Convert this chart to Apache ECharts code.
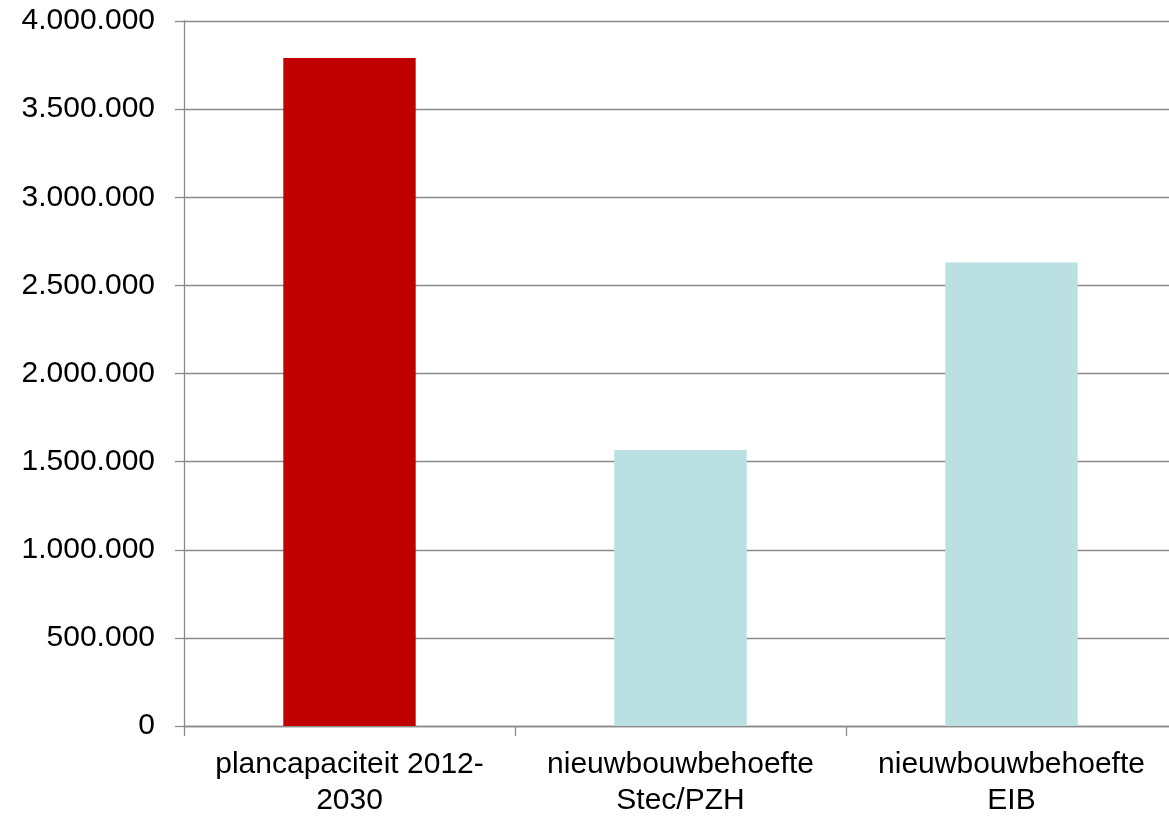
<!DOCTYPE html>
<html>
<head>
<meta charset="utf-8">
<script src="https://cdn.jsdelivr.net/npm/echarts@6/dist/echarts.min.js"></script>
<style>
html,body{margin:0;padding:0;background:#ffffff;overflow:hidden;}
#chart{position:absolute;left:0;top:0;width:1178px;height:816px;}
</style>
</head>
<body>
<div id="chart"></div>
<script>
const categories = ["plancapaciteit 2012-\n2030", "nieuwbouwbehoefte\nStec/PZH", "nieuwbouwbehoefte\nEIB"];
const values = [3790000, 1566000, 2630000];
const barColors = ["#C00000", "#BAE0E2", "#BAE0E2"];

const fmt = v => String(v).replace(/\B(?=(\d{3})+(?!\d))/g, ".");

const chart = echarts.init(document.getElementById('chart'), null, {renderer: 'canvas', width: 1178, height: 816});
chart.setOption({
  backgroundColor: '#ffffff',
  animation: false,
  grid: {left: 184, top: 21, right: 1, bottom: 90, containLabel: false, outerBoundsMode: 'none'},
  xAxis: {
    type: 'category',
    data: categories,
    axisLine: {show: true, lineStyle: {color: '#8a8a8a', width: 1.3}},
    axisTick: {show: true, length: 10, alignWithLabel: false, lineStyle: {color: '#8a8a8a', width: 1.3}},
    axisLabel: {interval: 0, margin: 21, color: '#000000', fontFamily: 'Liberation Sans, Arial, sans-serif', fontSize: 30, lineHeight: 36, align: 'center'},
    splitLine: {show: false}
  },
  yAxis: {
    type: 'value',
    min: 0, max: 4000000, interval: 500000,
    axisLine: {show: true, lineStyle: {color: '#8a8a8a', width: 1.3}},
    axisTick: {show: true, length: 9, lineStyle: {color: '#8a8a8a', width: 1.3}},
    axisLabel: {margin: 29, color: '#000000', fontFamily: 'Liberation Sans, Arial, sans-serif', fontSize: 30, formatter: fmt},
    splitLine: {show: true, lineStyle: {color: '#8a8a8a', width: 1.3}}
  },
  series: [{
    type: 'bar',
    barWidth: '40%',
    data: values.map((v, i) => ({value: v, itemStyle: {color: barColors[i]}}))
  }]
});
</script>
</body>
</html>
